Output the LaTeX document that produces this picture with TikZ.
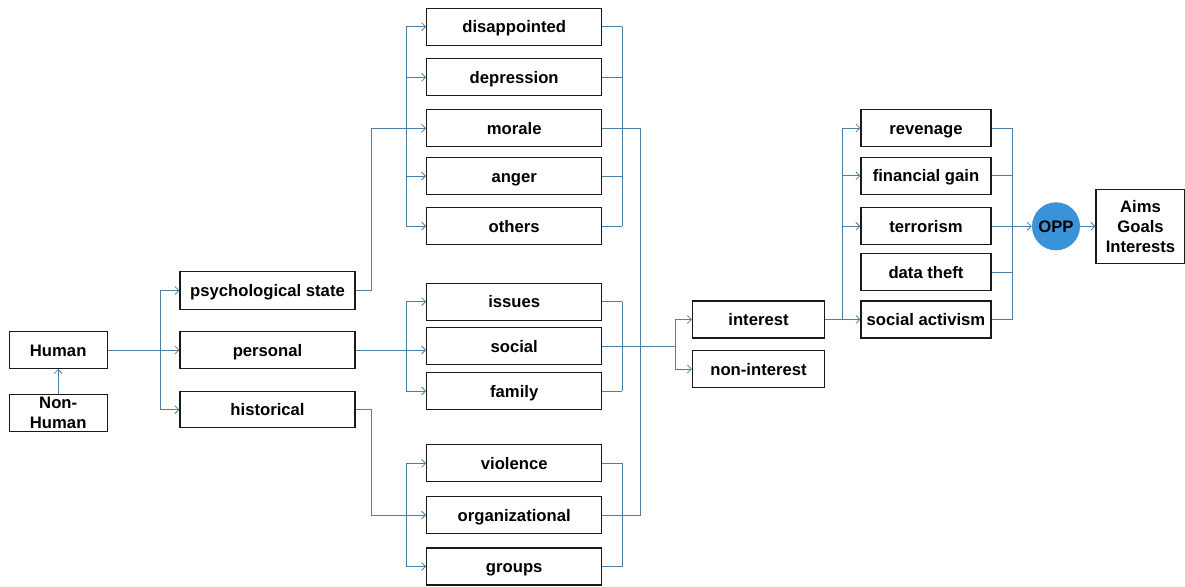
\documentclass[tikz,border=0pt]{standalone}
\usepackage{fontspec}
\setmainfont{Liberation Sans}
\usetikzlibrary{arrows.meta}
\definecolor{linkblue}{RGB}{78,126,162}
\definecolor{oppblue}{RGB}{58,146,216}
\begin{document}
\begin{tikzpicture}[x=0.75pt,y=-0.75pt,
  box/.style={draw=black!90, line width=0.9pt, fill=white, inner sep=0pt,
    align=center, font=\fontsize{12.5}{15}\selectfont\bfseries},
  tline/.style={box, text height=11pt, text depth=2pt},
  wh/.style 2 args={minimum width=#1*0.75pt, minimum height=#2*0.75pt},
  link/.style={draw=linkblue, line width=0.75pt},
  arr/.style={link, -{Straight Barb[length=3pt,width=6pt,line width=0.6pt]}}]
\useasboundingbox (0,0) rectangle (1185,586);

% first column
\node[tline, wh={98}{37}] (human) at (58.2,350) {Human};
\node[box, wh={98}{37}] (nonhuman) at (58.2,413) {Non-\\Human};

% second column
\node[tline, wh={175}{37.5}] (psych) at (267.5,290.5) {psychological state};
\node[tline, wh={175}{37}] (personal) at (267.5,350) {personal};
\node[tline, wh={175}{36}] (hist) at (267.5,409.7) {historical};

% third column
\node[tline, wh={175}{37}] (disap) at (514.2,26.7) {disappointed};
\node[tline, wh={175}{37}] (depr) at (514.2,77.3) {depression};
\node[tline, wh={175}{37}] (morale) at (514.2,128.3) {morale};
\node[tline, wh={175}{37}] (anger) at (514.2,176) {anger};
\node[tline, wh={175}{37}] (others) at (514.2,226) {others};
\node[tline, wh={175}{37}] (issues) at (514.2,301.7) {issues};
\node[tline, wh={175}{37}] (social) at (514.2,346) {social};
\node[tline, wh={175}{37}] (family) at (514.2,391) {family};
\node[tline, wh={175}{37}] (violence) at (514.2,463.3) {violence};
\node[tline, wh={175}{37}] (org) at (514.2,515) {organizational};
\node[tline, wh={175}{37}] (groups) at (514.2,566.5) {groups};

% fourth column
\node[tline, wh={132}{37}] (interest) at (758.5,319.5) {interest};
\node[tline, wh={132}{37}] (nonint) at (758.5,369) {non-interest};

% fifth column
\node[tline, wh={130}{37}] (revenage) at (926,128) {revenage};
\node[tline, wh={130}{37}] (fin) at (926,175.8) {financial gain};
\node[tline, wh={130}{37}] (terror) at (926,226.3) {terrorism};
\node[tline, wh={130}{37}] (theft) at (926,272.3) {data theft};
\node[tline, wh={130}{37}] (activism) at (926,319.5) {social activism};

\node[circle, fill=oppblue, inner sep=0pt, minimum size=48*0.75pt,
  text height=11pt, text depth=2pt,
  font=\fontsize{12.5}{15}\selectfont\bfseries] (opp) at (1056,226.3) {OPP};
\node[box, wh={89}{74}] (aims) at (1140.5,226.3) {Aims\\Goals\\Interests};

% Human branches
\draw[arr] (nonhuman) -- (human);
\draw[arr] (human) -- (personal);
\coordinate (jH) at (160,350);
\draw[arr] (jH) |- (psych.west);
\draw[arr] (jH) |- (hist.west);

% psychological state -> emotions
\coordinate (jP) at (371.7,290.5);
\draw[link] (psych.east) -- (jP);
\draw[arr] (jP) |- (morale.west);
\draw[link] ([xshift=-15pt]disap.west) -- ([xshift=-15pt]others.west);
\foreach \n in {disap,depr,anger,others}
  \draw[arr] ([xshift=-15pt]\n.west) -- (\n.west);
\draw[link] ([xshift=15pt]disap.east) -- ([xshift=15pt]others.east);
\foreach \n in {disap,depr,anger,others}
  \draw[link] (\n.east) -- ++(15pt,0);

% personal -> issues / social / family
\draw[arr] (personal.east) -- (personal.east -| social.west);
\draw[link] ([xshift=-15pt]issues.west) -- ([xshift=-15pt]family.west);
\foreach \n in {issues,family}
  \draw[arr] ([xshift=-15pt]\n.west) -- (\n.west);
\draw[link] ([xshift=15pt]issues.east) -- ([xshift=15pt]family.east);
\foreach \n in {issues,family}
  \draw[link] (\n.east) -- ++(15pt,0);

% historical -> violence / organizational / groups
\coordinate (jR) at (371.7,409.7);
\draw[link] (hist.east) -- (jR);
\draw[arr] (jR) |- (org.west);
\draw[link] ([xshift=-15pt]violence.west) -- ([xshift=-15pt]groups.west);
\foreach \n in {violence,groups}
  \draw[arr] ([xshift=-15pt]\n.west) -- (\n.west);
\draw[link] ([xshift=15pt]violence.east) -- ([xshift=15pt]groups.east);
\foreach \n in {violence,groups}
  \draw[link] (\n.east) -- ++(15pt,0);

% morale and organizational joined on one riser
\coordinate (jM) at (640.5,128.3);
\draw[link] (morale.east) -- (jM) |- (org.east);

% social -> interest / non-interest
\coordinate (jS) at (675,346);
\draw[link] (social.east) -- (jS);
\draw[arr] (jS) |- (interest.west);
\draw[arr] (jS) |- (nonint.west);

% interest -> motives
\draw[arr] (interest) -- (activism);
\draw[link] ([xshift=-13.5pt]revenage.west) -- ([xshift=-13.5pt]activism.west);
\foreach \n in {revenage,fin,terror}
  \draw[arr] ([xshift=-13.5pt]\n.west) -- (\n.west);
\draw[link] ([xshift=15.75pt]revenage.east) -- ([xshift=15.75pt]activism.east);
\foreach \n in {revenage,fin,theft,activism}
  \draw[link] (\n.east) -- ++(15.75pt,0);

% motives -> OPP -> aims
\draw[arr] (terror) -- (opp);
\draw[arr] (opp) -- (aims);
\end{tikzpicture}
\end{document}
